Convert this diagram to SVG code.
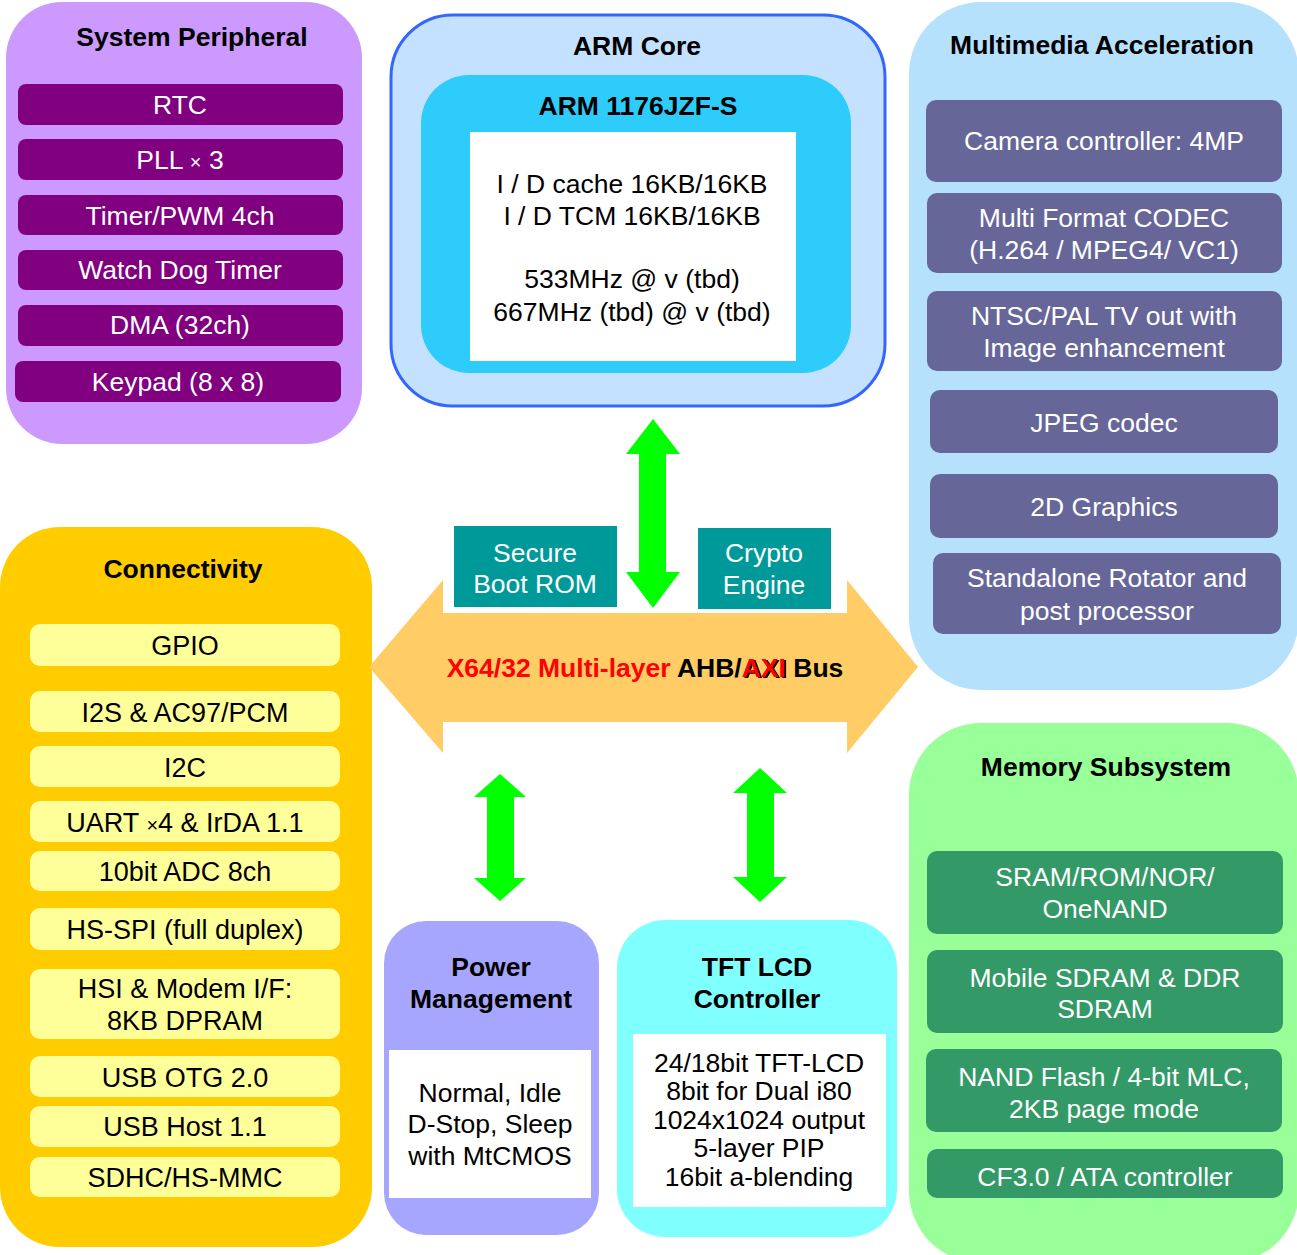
<svg xmlns="http://www.w3.org/2000/svg" width="1297" height="1255" viewBox="0 0 1297 1255">
<defs>
<style>
text{font-family:"Liberation Sans",Arial,sans-serif;font-size:26.5px;text-anchor:middle}
.t{font-weight:bold;fill:#000}
.w{fill:#fff}
.k{fill:#000}
.c{fill:#000;font-size:27px}
.pb{fill:#800080}
.mb{fill:#666699}
.cb{fill:#FFFF99}
.gb{fill:#339966}
.teal{fill:#009999}
.arr{fill:#00FF00}
.x{font-size:20px}
</style>
<filter id="sh" x="-10%" y="-10%" width="130%" height="130%">
<feOffset in="SourceAlpha" dx="1.5" dy="1" result="o"/>
<feMerge><feMergeNode in="o"/><feMergeNode in="SourceGraphic"/></feMerge>
</filter>
</defs>
<rect width="1297" height="1255" fill="#fff"/>

<g id="system-peripheral">
<rect x="6" y="2" width="356" height="442" rx="56" fill="#CC99FF"/>
<text class="t" x="192" y="46">System Peripheral</text>
<rect class="pb" x="18" y="84" width="325" height="41" rx="8"/>
<text class="w" x="180" y="114">RTC</text>
<rect class="pb" x="18" y="139" width="325" height="41" rx="8"/>
<text class="w" x="180" y="169">PLL <tspan class="x">×</tspan> 3</text>
<rect class="pb" x="18" y="195" width="325" height="40" rx="8"/>
<text class="w" x="180" y="225">Timer/PWM 4ch</text>
<rect class="pb" x="18" y="250" width="325" height="40" rx="8"/>
<text class="w" x="180" y="279">Watch Dog Timer</text>
<rect class="pb" x="18" y="305" width="325" height="41" rx="8"/>
<text class="w" x="180" y="334">DMA (32ch)</text>
<rect class="pb" x="15" y="361" width="326" height="41" rx="8"/>
<text class="w" x="178" y="391">Keypad (8 x 8)</text>
</g>

<g id="arm-core">
<rect x="391" y="15" width="494" height="391" rx="62" fill="#C4E2FF" stroke="#3366FF" stroke-width="3"/>
<text class="t" x="637" y="55">ARM Core</text>
<rect x="421" y="75" width="430" height="298" rx="48" fill="#2ECCFA"/>
<text class="t" x="638" y="115">ARM 1176JZF-S</text>
<rect x="470" y="132" width="326" height="229" fill="#fff"/>
<text class="k" x="632" y="193">I / D cache 16KB/16KB</text>
<text class="k" x="632" y="225">I / D TCM 16KB/16KB</text>
<text class="k" x="632" y="288">533MHz @ v (tbd)</text>
<text class="k" x="632" y="321">667MHz (tbd) @ v (tbd)</text>
</g>

<g id="multimedia">
<rect x="909" y="2" width="390" height="688" rx="72" fill="#B5E1FD"/>
<text class="t" x="1102" y="54">Multimedia Acceleration</text>
<rect class="mb" x="926" y="100" width="356" height="82" rx="10"/>
<text class="w" x="1104" y="150">Camera controller: 4MP</text>
<rect class="mb" x="927" y="193" width="355" height="80" rx="10"/>
<text class="w" x="1104" y="227">Multi Format CODEC</text>
<text class="w" x="1104" y="259">(H.264 / MPEG4/ VC1)</text>
<rect class="mb" x="927" y="291" width="355" height="80" rx="10"/>
<text class="w" x="1104" y="325">NTSC/PAL TV out with</text>
<text class="w" x="1104" y="357">Image enhancement</text>
<rect class="mb" x="930" y="390" width="348" height="63" rx="10"/>
<text class="w" x="1104" y="432">JPEG codec</text>
<rect class="mb" x="930" y="474" width="348" height="64" rx="10"/>
<text class="w" x="1104" y="516">2D Graphics</text>
<rect class="mb" x="933" y="553" width="348" height="81" rx="10"/>
<text class="w" x="1107" y="587">Standalone Rotator and</text>
<text class="w" x="1107" y="620">post processor</text>
</g>

<g id="connectivity">
<rect x="0" y="527" width="372" height="720" rx="60" fill="#FFCC00"/>
<text class="t" x="183" y="578">Connectivity</text>
<rect class="cb" x="30" y="624" width="310" height="42" rx="10"/>
<text class="c" x="185" y="655">GPIO</text>
<rect class="cb" x="30" y="691" width="310" height="41" rx="10"/>
<text class="c" x="185" y="722">I2S &amp; AC97/PCM</text>
<rect class="cb" x="30" y="746" width="310" height="41" rx="10"/>
<text class="c" x="185" y="777">I2C</text>
<rect class="cb" x="30" y="801" width="310" height="41" rx="10"/>
<text class="c" x="185" y="832">UART <tspan class="x">×</tspan>4 &amp; IrDA 1.1</text>
<rect class="cb" x="30" y="851" width="310" height="40" rx="10"/>
<text class="c" x="185" y="881">10bit ADC 8ch</text>
<rect class="cb" x="30" y="908" width="310" height="42" rx="10"/>
<text class="c" x="185" y="939">HS-SPI (full duplex)</text>
<rect class="cb" x="30" y="969" width="310" height="70" rx="10"/>
<text class="c" x="185" y="998">HSI &amp; Modem I/F:</text>
<text class="c" x="185" y="1030">8KB DPRAM</text>
<rect class="cb" x="30" y="1056" width="310" height="41" rx="10"/>
<text class="c" x="185" y="1087">USB OTG 2.0</text>
<rect class="cb" x="30" y="1106" width="310" height="41" rx="10"/>
<text class="c" x="185" y="1136">USB Host 1.1</text>
<rect class="cb" x="30" y="1157" width="310" height="40" rx="10"/>
<text class="c" x="185" y="1187">SDHC/HS-MMC</text>
</g>

<g id="bus">
<polygon points="369,667 443,580 443,613 847,613 847,580 918,667 847,753 847,722 443,722 443,753" fill="#FFCC66"/>
<text class="t" x="645" y="677"><tspan fill="#FF0000">X64/32 Multi-layer</tspan> AHB/<tspan fill="#FF0000" filter="url(#sh)">AXI</tspan> Bus</text>
</g>

<g id="secure-boot-rom">
<rect class="teal" x="454" y="526" width="163" height="81"/>
<text class="w" x="535" y="562">Secure</text>
<text class="w" x="535" y="593">Boot ROM</text>
</g>

<g id="crypto-engine">
<rect class="teal" x="698" y="528" width="133" height="81"/>
<text class="w" x="764" y="562">Crypto</text>
<text class="w" x="764" y="594">Engine</text>
</g>

<g id="power-management">
<rect x="384" y="921" width="215" height="314" rx="42" fill="#A6A6FF"/>
<text class="t" x="491" y="976">Power</text>
<text class="t" x="491" y="1008">Management</text>
<rect x="389" y="1050" width="202" height="148" fill="#fff"/>
<text class="k" x="490" y="1102">Normal, Idle</text>
<text class="k" x="490" y="1133">D-Stop, Sleep</text>
<text class="k" x="490" y="1165">with MtCMOS</text>
</g>

<g id="tft-lcd">
<rect x="617" y="920" width="280" height="317" rx="48" fill="#80FFFF"/>
<text class="t" x="757" y="976">TFT LCD</text>
<text class="t" x="757" y="1008">Controller</text>
<rect x="633" y="1034" width="253" height="173" fill="#fff"/>
<text class="k" x="759" y="1072">24/18bit TFT-LCD</text>
<text class="k" x="759" y="1100">8bit for Dual i80</text>
<text class="k" x="759" y="1129">1024x1024 output</text>
<text class="k" x="759" y="1157">5-layer PIP</text>
<text class="k" x="759" y="1186">16bit a-blending</text>
</g>

<g id="memory">
<rect x="909" y="723" width="390" height="540" rx="72" fill="#99FF99"/>
<text class="t" x="1106" y="776">Memory Subsystem</text>
<rect class="gb" x="927" y="851" width="356" height="83" rx="10"/>
<text class="w" x="1105" y="886">SRAM/ROM/NOR/</text>
<text class="w" x="1105" y="918">OneNAND</text>
<rect class="gb" x="927" y="950" width="356" height="83" rx="10"/>
<text class="w" x="1105" y="987">Mobile SDRAM &amp; DDR</text>
<text class="w" x="1105" y="1018">SDRAM</text>
<rect class="gb" x="926" y="1049" width="356" height="83" rx="10"/>
<text class="w" x="1104" y="1086">NAND Flash / 4-bit MLC,</text>
<text class="w" x="1104" y="1118">2KB page mode</text>
<rect class="gb" x="927" y="1149" width="356" height="49" rx="10"/>
<text class="w" x="1105" y="1186">CF3.0 / ATA controller</text>
</g>

<g id="connectors">
<polygon class="arr" points="653,419 680,454 666,454 666,572 680,572 653,608 626,572 639,572 639,454 626,454"/>
<polygon class="arr" points="500,774 526,797 514,797 514,878 526,878 500,901 474,878 487,878 487,797 474,797"/>
<polygon class="arr" points="760,768 787,793 774,793 774,877 787,877 760,902 733,877 747,877 747,793 733,793"/>
</g>
</svg>
